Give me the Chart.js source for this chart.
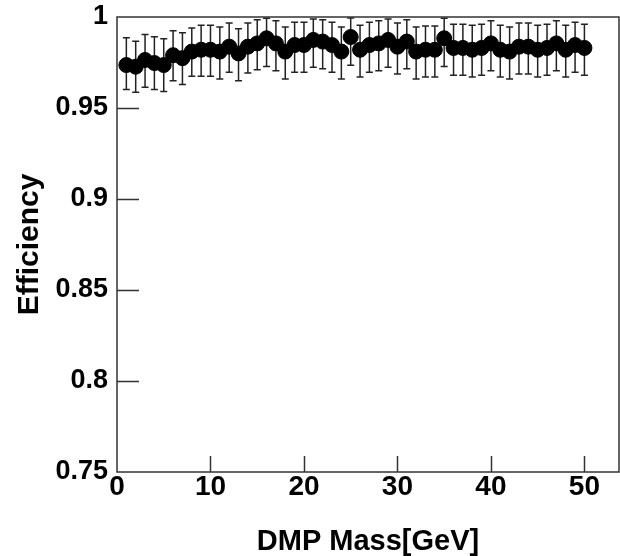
<!DOCTYPE html>
<html>
<head>
<meta charset="utf-8">
<script src="https://cdn.jsdelivr.net/npm/chart.js@4/dist/chart.umd.min.js"></script>
<style>
html,body{margin:0;padding:0;background:#fff;}
#wrap{width:620px;height:556px;}
</style>
</head>
<body>
<div id="wrap"><canvas id="c" width="620" height="556"></canvas></div>
<script>
const massGeV = [1,2,3,4,5,6,7,8,9,10,11,12,13,14,15,16,17,18,19,20,21,22,23,24,25,26,27,28,29,30,31,32,33,34,35,36,37,38,39,40,41,42,43,44,45,46,47,48,49,50];
const efficiency = [0.9736,0.9727,0.9764,0.9747,0.9736,0.9790,0.9774,0.9810,0.9820,0.9820,0.9810,0.9837,0.9800,0.9837,0.9855,0.9883,0.9855,0.9810,0.9846,0.9846,0.9874,0.9865,0.9846,0.9810,0.9890,0.9820,0.9846,0.9855,0.9874,0.9837,0.9865,0.9810,0.9820,0.9820,0.9883,0.9830,0.9830,0.9820,0.9830,0.9855,0.9820,0.9810,0.9837,0.9837,0.9820,0.9830,0.9855,0.9820,0.9846,0.9830];
const errUp = [0.0150,0.0140,0.0140,0.0145,0.0145,0.0135,0.0140,0.0130,0.0135,0.0135,0.0135,0.0130,0.0135,0.0130,0.0130,0.0110,0.0125,0.0135,0.0125,0.0125,0.0115,0.0120,0.0125,0.0135,0.0105,0.0135,0.0125,0.0125,0.0115,0.0130,0.0120,0.0135,0.0130,0.0130,0.0110,0.0130,0.0130,0.0135,0.0130,0.0125,0.0135,0.0135,0.0130,0.0130,0.0135,0.0130,0.0125,0.0135,0.0125,0.0130];
const errDown = [0.0135,0.0140,0.0150,0.0145,0.0145,0.0140,0.0145,0.0135,0.0145,0.0145,0.0150,0.0140,0.0150,0.0145,0.0145,0.0155,0.0150,0.0150,0.0150,0.0150,0.0150,0.0150,0.0150,0.0150,0.0155,0.0150,0.0150,0.0150,0.0150,0.0150,0.0150,0.0150,0.0150,0.0150,0.0155,0.0150,0.0150,0.0150,0.0150,0.0150,0.0150,0.0150,0.0150,0.0150,0.0150,0.0150,0.0150,0.0150,0.0150,0.0150];
const xTicks = [0,10,20,30,40,50];
const yTicks = [0.75,0.8,0.85,0.9,0.95,1];
const yTickLabels = ['0.75','0.8','0.85','0.9','0.95','1'];

const points = massGeV.map((m,i)=>({x:m,y:efficiency[i]}));

const errorBars = {
  id:'errorBars',
  beforeDatasetsDraw(chart){
    const {ctx, scales:{x,y}} = chart;
    ctx.save();
    ctx.strokeStyle = '#222';
    ctx.lineWidth = 1.5;
    const cap = 3.5;
    massGeV.forEach((m,i)=>{
      const px = x.getPixelForValue(m);
      const top = y.getPixelForValue(efficiency[i]+errUp[i]);
      const bot = y.getPixelForValue(efficiency[i]-errDown[i]);
      ctx.beginPath();
      ctx.moveTo(px,top); ctx.lineTo(px,bot);
      ctx.moveTo(px-cap,top); ctx.lineTo(px+cap,top);
      ctx.moveTo(px-cap,bot); ctx.lineTo(px+cap,bot);
      ctx.stroke();
    });
    ctx.restore();
  }
};

const frame = {
  id:'frame',
  afterDraw(chart){
    const {ctx, chartArea:a, scales:{x,y}} = chart;
    ctx.save();
    ctx.strokeStyle = '#333';
    ctx.lineWidth = 1.5;
    ctx.strokeRect(a.left, a.top, a.right-a.left, a.bottom-a.top);
    ctx.beginPath();
    yTicks.forEach(v=>{
      if (v<=0.75 || v>=1) return;
      const py = Math.round(y.getPixelForValue(v))+0.5;
      ctx.moveTo(a.left, py); ctx.lineTo(a.left+22, py);
    });
    xTicks.forEach(v=>{
      if (v<=0) return;
      const px = Math.round(x.getPixelForValue(v))+0.5;
      ctx.moveTo(px, a.bottom); ctx.lineTo(px, a.bottom-16);
    });
    ctx.stroke();
    ctx.restore();
  }
};

new Chart(document.getElementById('c'), {
  type:'scatter',
  data:{datasets:[{data:points, backgroundColor:'#000', borderColor:'#000', pointRadius:7.5, pointHoverRadius:7.5, showLine:false}]},
  options:{
    responsive:false, animation:false,
    layout:{autoPadding:false, padding:{top:17,right:1,left:0,bottom:0}},
    plugins:{legend:{display:false}, tooltip:{enabled:false}},
    scales:{
      x:{
        type:'linear', min:0, max:53.7,
        afterBuildTicks(s){ s.ticks = xTicks.map(v=>({value:v})); },
        afterFit(s){ s.height = 84; s.paddingLeft = 0; s.paddingRight = 0; },
        grid:{display:false, drawTicks:false},
        border:{display:false},
        ticks:{color:'#000', padding:-2, maxRotation:0, autoSkip:false, font:{family:'Liberation Sans', weight:'bold', size:28}},
        title:{display:true, text:'DMP Mass[GeV]', color:'#000', padding:{top:0,bottom:0}, font:{family:'Liberation Sans', weight:'bold', size:29, lineHeight:1.0}}
      },
      y:{
        type:'linear', min:0.75, max:1,
        afterBuildTicks(s){ s.ticks = yTicks.map(v=>({value:v})); },
        afterFit(s){ s.width = 117; s.paddingTop = 0; s.paddingBottom = 0; },
        grid:{display:false, drawTicks:false},
        border:{display:false},
        ticks:{color:'#000', padding:9, autoSkip:false,
          callback:(v)=>{ const i = yTicks.findIndex(t=>Math.abs(t-v)<1e-6); return i>=0?yTickLabels[i]:''; },
          font:{family:'Liberation Sans', weight:'bold', size:27}},
        title:{display:true, text:'Efficiency', color:'#000', padding:{top:15,bottom:0}, font:{family:'Liberation Sans', weight:'bold', size:30, lineHeight:1.0}}
      }
    }
  },
  plugins:[errorBars, frame]
});
</script>
</body>
</html>
